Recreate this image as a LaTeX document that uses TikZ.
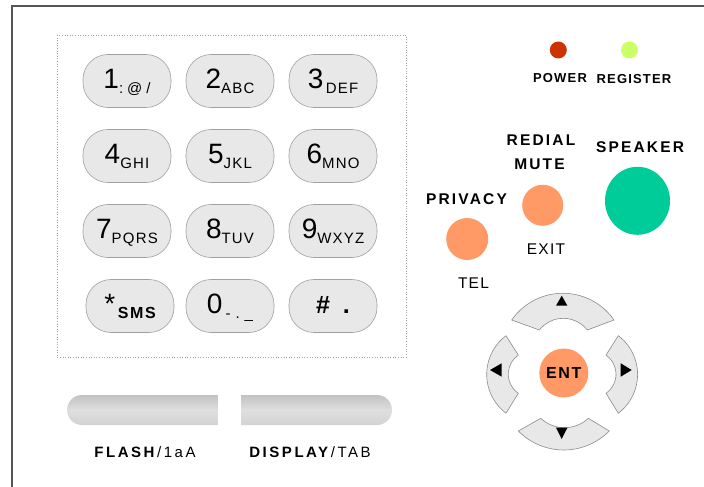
\documentclass[tikz,border=0pt]{standalone}
\usepackage{fontspec}
\setmainfont{Liberation Sans}
\usetikzlibrary{shapes.geometric,backgrounds}
\definecolor{keyfill}{HTML}{E8E8E8}
\definecolor{keyline}{HTML}{A0A0A0}
\definecolor{barcol}{HTML}{B3B3B3}
\definecolor{ledred}{HTML}{CC3300}
\definecolor{ledgreen}{HTML}{CCFF66}
\definecolor{btnorange}{HTML}{FF9966}
\definecolor{btngreen}{HTML}{00CC99}
\definecolor{framecol}{HTML}{555555}
\definecolor{dotcol}{HTML}{A0A0A0}
\newcommand\fs[1]{\fontsize{#1}{#1}\selectfont}
\newcommand\keytxt[2]{{\fs{28}#1}\raisebox{-5pt}{\fs{15}\addfontfeatures{LetterSpace=8}#2}}
\begin{document}
\begin{tikzpicture}[x=1pt,y=-1pt,
  keybtn/.style={draw=keyline, fill=keyfill, rounded corners=25pt, minimum width=88pt,
    minimum height=53pt, inner sep=0pt, text height=20pt, text depth=5pt, line width=0.6pt},
  keybar/.style={draw=barcol, line width=8pt},
  navseg/.style={draw=gray!90, fill=keyfill, line width=0.6pt},
  tri/.style={fill=black},
  ledlbl/.style={anchor=base, inner sep=0pt, font=\fs{13}\bfseries\addfontfeatures{LetterSpace=9}},
  btnlbl/.style={anchor=base, inner sep=0pt, font=\fs{15.5}\bfseries\addfontfeatures{LetterSpace=14}},
  sublbl/.style={anchor=base, inner sep=0pt, font=\fs{15.5}\addfontfeatures{LetterSpace=8}},
  botlbl/.style={anchor=base, inner sep=0pt, font=\fs{15}\addfontfeatures{LetterSpace=17}},
  wideshade/.style={top color=gray!48, bottom color=gray!35, middle color=gray!25, draw=none}
]
\useasboundingbox (0,0) rectangle (704,487);
\fill[white] (0,0) rectangle (704,487);
% frame
\draw[framecol, line width=1.4pt] (12,487) -- (12,6) -- (704,6);
% keypad area
\draw[dotcol, dotted, line width=0.6pt] (57,35) rectangle (406,357);

% keys
\node[keybtn] (k1) at (127,81) {\keytxt{1}{:\hspace{4pt}@\hspace{4pt}/}};
\node[keybtn] (k2) at (230,81) {\keytxt{2}{ABC}};
\node[keybtn] (k3) at (333,81) {\keytxt{3}{\,DEF}};
\node[keybtn] (k4) at (127,156) {\keytxt{4}{GHI}};
\node[keybtn] (k5) at (230,156) {\keytxt{5}{JKL}};
\node[keybtn] (k6) at (333,156) {\keytxt{6}{MNO}};
\node[keybtn] (k7) at (127,231) {\keytxt{7}{PQRS}};
\node[keybtn] (k8) at (230,231) {\keytxt{8}{TUV}};
\node[keybtn] (k9) at (333,231) {\keytxt{9}{WXYZ}};
\node[keybtn] (k10) at (130,306) {{\fs{28}*}\raisebox{-5pt}{\fs{16}\bfseries\addfontfeatures{LetterSpace=10}\,SMS}};
\node[keybtn] (k11) at (230,306) {\keytxt{0}{\hspace{3pt}-\hspace{5pt}.\hspace{5pt}\_}};
\node[keybtn] (k12) at (333,306) {{\fs{25}\bfseries\#\hspace{13pt}.}};

\coordinate (bl1) at (63,79); \coordinate (br1) at (388,79);
\coordinate (bl2) at (63,154); \coordinate (br2) at (388,154);
\coordinate (bl3) at (63,230); \coordinate (br3) at (388,230);
\coordinate (bl4) at (63,306); \coordinate (br4) at (388,306);
\begin{scope}[on background layer]
\draw[keybar] (bl1) -- (k1) -- (k2) -- (k3) -- (br1);
\draw[keybar] (bl2) -- (k4) -- (k5) -- (k6) -- (br2);
\draw[keybar] (bl3) -- (k7) -- (k8) -- (k9) -- (br3);
\draw[keybar] (bl4) -- (k10) -- (k11) -- (k12) -- (br4);
\end{scope}

% long buttons
\shade[wideshade] (218,395) -- (82,395) arc[start angle=270, end angle=90, radius=15] -- (218,425) -- cycle;
\shade[wideshade] (241,395) -- (377,395) arc[start angle=-90, end angle=90, radius=15] -- (241,425) -- cycle;
\node[botlbl] (flash) at (145,457.3) {\textbf{FLASH}/1aA};
\node[botlbl] (display) at (310,457.3) {\textbf{DISPLAY}/TAB};

% LEDs
\node[circle, fill=ledred, minimum size=17pt, inner sep=0pt] (power) at (558.3,50) {};
\node[circle, fill=ledgreen, minimum size=17pt, inner sep=0pt] (register) at (629.5,50) {};
\node[ledlbl] (powerlbl) at (560,82.7) {POWER};
\node[ledlbl] (registerlbl) at (634,83.3) {REGISTER};

% buttons
\node[btnlbl] (redial) at (541,145.3) {REDIAL};
\node[btnlbl] (mutelbl) at (539.5,169.3) {MUTE};
\node[btnlbl] (speakerlbl) at (640,152) {SPEAKER};
\node[btnlbl] (privacy) at (466.5,204.3) {PRIVACY};
\node[circle, fill=btnorange, minimum size=41pt, inner sep=0pt] (mute) at (542.7,205.3) {};
\node[circle, fill=btnorange, minimum size=42pt, inner sep=0pt] (tel) at (467.2,239) {};
\node[ellipse, fill=btngreen, minimum width=65pt, minimum height=68pt, inner sep=0pt] (speaker) at (637.5,200.8) {};
\node[sublbl] (exit) at (546,254) {EXIT};
\node[sublbl] (tellbl) at (473.5,288.3) {TEL};

% navigation pad
\path[navseg] (511.7,320) arc[start angle=214.8, end angle=325.2, radius=62.3] -- (587.3,330)
  arc[start angle=321.9, end angle=218.1, radius=30.5] -- cycle;
\path[navseg] (506,335.7) arc[start angle=232.9, end angle=127.1, radius=48.6] -- (518.3,393.3)
  arc[start angle=124.8, end angle=235.2, radius=23.3] -- cycle;
\path[navseg] (618.3,335.7) arc[start angle=-52.9, end angle=52.9, radius=48.6] -- (606,393.3)
  arc[start angle=55.2, end angle=-55.2, radius=23.3] -- cycle;
\path[navseg] (518.3,431) arc[start angle=135.3, end angle=44.7, radius=64] -- (588.3,418.3)
  arc[start angle=46.9, end angle=133.1, radius=34.8] -- cycle;
\fill[tri] (561.7,295.7) -- (567.4,305.7) -- (556,305.7) -- cycle;
\fill[tri] (490,370) -- (501.7,363.3) -- (501.7,376.7) -- cycle;
\fill[tri] (631.7,370) -- (620.7,363.3) -- (620.7,376.7) -- cycle;
\fill[tri] (561.7,439) -- (567.4,427.7) -- (556,427.7) -- cycle;
\node[circle, fill=btnorange, minimum size=49pt, inner sep=0pt,
  font=\fs{16}\bfseries\addfontfeatures{LetterSpace=10}] (ent) at (563.8,373) {ENT};
\end{tikzpicture}
\end{document}
